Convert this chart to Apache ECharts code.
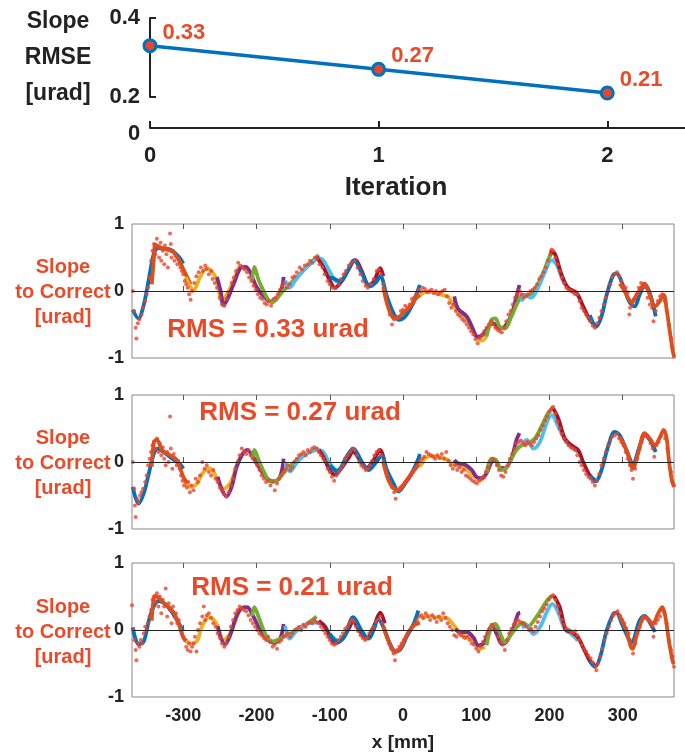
<!DOCTYPE html>
<html>
<head>
<meta charset="utf-8">
<script src="https://cdn.jsdelivr.net/npm/echarts@6/dist/echarts.min.js"></script>
<style>
  html, body { margin: 0; padding: 0; background: #fff; }
  #chart { width: 685px; height: 755px; }
</style>
</head>
<body>
<div id="chart"></div>
<script>
// ---- top chart: slope RMSE per iteration ----
const iterations = [0, 1, 2];
const rmseValues = [0.33, 0.27, 0.21];
const rmsLabels = ['RMS = 0.33 urad', 'RMS = 0.27 urad', 'RMS = 0.21 urad'];
const xTicks = [-300, -200, -100, 0, 100, 200, 300];

// ---- panel 1 (iteration 0) fitted segments ----
const p1Blue1 = [[-369,-0.28],[-361,-0.41],[-355,-0.25],[-350,0.0],[-345,0.3],[-340,0.56],[-334,0.64],[-325,0.63],[-318,0.62],[-306,0.51],[-300,0.41]];
const p1Orange1 = [[-343,0.1],[-340,0.5],[-338,0.69],[-329,0.64],[-315,0.59],[-306,0.46],[-297,0.26],[-290,0.1]];
const p1Yellow1 = [[-297,0.21],[-290,0.06],[-286,0.01],[-277,0.21],[-268,0.34],[-261,0.29],[-254,0.16],[-247,-0.15],[-238,0.0],[-231,0.15],[-222,0.36],[-213,0.33]];
const p1Purple1 = [[-254,0.21],[-249,0.0],[-245,-0.21],[-240,-0.13],[-231,0.11],[-222,0.34],[-215,0.36],[-209,0.29],[-200,0.06],[-190,-0.08],[-181,-0.16],[-172,-0.11],[-165,0.06],[-163,0.21]];
const p1Green1 = [[-206,0.16],[-203,0.36],[-197,0.16],[-190,-0.01],[-184,-0.13],[-179,-0.17],[-172,-0.11],[-163,0.01],[-154,0.11],[-140,0.26],[-127,0.41],[-115,0.54]];
const p1Cyan1 = [[-161,0.16],[-155,0.05],[-147,0.16],[-136,0.31],[-122,0.44],[-115,0.49],[-109,0.46],[-100,0.29],[-90,0.14],[-84,0.16]];
const p1Red1 = [[-118,0.51],[-109,0.36],[-100,0.16],[-93,0.05],[-84,0.14],[-75,0.31],[-65,0.46],[-56,0.29],[-47,0.09],[-40,0.14],[-31,0.34],[-27,0.22]];
const p1Blue2 = [[-100,0.2],[-95,0.19],[-86,0.14],[-75,0.31],[-67,0.46],[-56,0.26],[-45,0.07],[-36,0.14],[-31,0.22],[-22,-0.08],[-13,-0.33],[-6,-0.43],[3,-0.38],[14,-0.18],[19,-0.03],[23,0.09]];
const p1Orange2 = [[-27,0.06],[-22,-0.18],[-15,-0.38],[-9,-0.41],[0,-0.33],[10,-0.23],[16,-0.13],[23,-0.06],[30,-0.01]];
const p1Yellow2 = [[23,-0.06],[32,-0.01],[41,-0.02],[53,-0.06],[62,-0.09],[66,-0.16],[75,-0.3],[87,-0.42],[96,-0.6],[103,-0.72],[108,-0.74],[114,-0.68]];
const p1Purple2 = [[70,-0.08],[75,-0.26],[87,-0.38],[96,-0.58],[101,-0.68],[107,-0.67],[114,-0.58],[123,-0.48],[132,-0.56],[139,-0.53],[148,-0.36],[155,-0.08],[159,0.09]];
const p1Green2 = [[114,-0.68],[121,-0.43],[126,-0.41],[132,-0.53],[139,-0.56],[148,-0.38],[157,-0.16],[164,-0.06],[173,-0.06],[182,0.06],[191,0.26],[200,0.51],[205,0.59]];
const p1Cyan2 = [[162,-0.16],[166,-0.06],[175,-0.1],[184,0.04],[194,0.29],[203,0.46],[210,0.39],[219,0.14],[230,0.01],[239,-0.06]];
const p1Red2 = [[200,0.59],[207,0.56],[216,0.26],[225,0.05],[237,-0.03],[246,-0.23],[255,-0.43],[262,-0.51]];
const p1Blue3 = [[255,-0.36],[264,-0.53],[271,-0.38],[278,-0.06],[287,0.24],[292,0.26],[300,0.09],[309,-0.16],[316,-0.23],[323,-0.06],[330,0.09],[337,-0.03],[345,-0.38]];
const p1Orange3 = [[296,0.11],[303,-0.01],[312,-0.16],[316,-0.11],[323,0.01],[330,0.11],[337,-0.06],[344,-0.23],[350,-0.16],[356,-0.06],[360,-0.28],[364,-0.58],[368,-0.88],[370,-0.98]];

// ---- panel 2 (iteration 1) fitted segments ----
const p2Blue1 = [[-369,-0.37],[-361,-0.62],[-354,-0.47],[-347,-0.17],[-340,0.13],[-335,0.2],[-327,0.15],[-315,0.05],[-304,-0.04],[-300,-0.1]];
const p2Orange1 = [[-343,-0.07],[-340,0.3],[-336,0.33],[-329,0.18],[-318,0.1],[-309,0.03],[-300,-0.22],[-294,-0.32]];
const p2Yellow1 = [[-297,-0.32],[-290,-0.37],[-281,-0.32],[-275,-0.19],[-265,-0.09],[-259,-0.14],[-253,-0.27],[-245,-0.4],[-235,-0.3],[-227,-0.05],[-218,0.15]];
const p2Purple1 = [[-253,-0.22],[-247,-0.42],[-241,-0.51],[-234,-0.37],[-227,-0.07],[-220,0.1],[-213,0.18],[-206,0.1],[-197,-0.07],[-186,-0.24],[-177,-0.29],[-168,-0.22],[-163,0.05]];
const p2Green1 = [[-206,0.05],[-203,0.18],[-197,0.03],[-188,-0.19],[-181,-0.29],[-175,-0.29],[-165,-0.19],[-156,-0.08],[-145,0.03],[-131,0.13],[-115,0.2]];
const p2Cyan1 = [[-161,0.0],[-154,-0.14],[-147,-0.04],[-140,0.05],[-129,0.14],[-118,0.18],[-109,0.15],[-100,-0.02],[-90,-0.12],[-81,-0.04]];
const p2Red1 = [[-115,0.18],[-109,0.08],[-100,-0.12],[-93,-0.19],[-84,-0.09],[-75,0.05],[-68,0.15],[-59,0.03],[-50,-0.09],[-40,0.03],[-31,0.18],[-26,0.03]];
const p2Blue2 = [[-100,-0.05],[-90,-0.14],[-77,0.08],[-68,0.2],[-56,0.0],[-47,-0.12],[-38,-0.02],[-29,0.09],[-22,-0.12],[-13,-0.32],[-6,-0.44],[3,-0.32],[14,-0.12],[21,0.05],[23,0.12]];
const p2Orange2 = [[-27,0.0],[-20,-0.27],[-13,-0.39],[-6,-0.42],[3,-0.3],[12,-0.17],[19,-0.07],[28,0.0]];
const p2Yellow2 = [[23,-0.07],[30,0.05],[39,0.09],[50,0.07],[60,0.04],[66,-0.02],[75,-0.05],[85,-0.1],[95,-0.2],[105,-0.27],[112,-0.22]];
const p2Purple2 = [[70,0.03],[75,-0.02],[85,-0.04],[94,-0.12],[100,-0.22],[107,-0.24],[114,-0.17],[121,0.0],[126,0.03],[132,-0.08],[139,-0.09],[148,0.05],[155,0.33],[159,0.43]];
const p2Green2 = [[114,-0.17],[121,0.05],[127,0.03],[135,-0.12],[141,-0.09],[148,0.05],[155,0.18],[162,0.25],[171,0.28],[180,0.35],[189,0.53],[198,0.73],[205,0.82]];
const p2Cyan2 = [[162,0.25],[169,0.33],[178,0.2],[187,0.3],[196,0.58],[203,0.7],[212,0.53],[221,0.33],[230,0.23],[239,0.15]];
const p2Red2 = [[205,0.8],[212,0.65],[221,0.35],[230,0.25],[239,0.18],[246,0.0],[255,-0.2],[262,-0.27]];
const p2Blue3 = [[255,-0.2],[263,-0.29],[271,-0.12],[280,0.23],[289,0.45],[296,0.4],[305,0.18],[314,-0.02],[323,0.23],[330,0.4],[337,0.33],[345,0.15]];
const p2Orange3 = [[296,0.38],[305,0.18],[314,-0.09],[321,0.13],[330,0.43],[337,0.35],[344,0.25],[350,0.35],[356,0.48],[360,0.35],[363,0.03],[367,-0.27],[370,-0.37]];

// ---- panel 3 (iteration 2) fitted segments ----
const p3Blue1 = [[-369,0.04],[-361,-0.21],[-354,-0.17],[-347,0.14],[-340,0.36],[-334,0.43],[-325,0.39],[-315,0.26],[-304,0.06],[-300,-0.02]];
const p3Orange1 = [[-343,0.14],[-339,0.51],[-334,0.48],[-325,0.39],[-315,0.29],[-306,0.09],[-300,-0.11],[-294,-0.18]];
const p3Yellow1 = [[-297,-0.16],[-290,-0.2],[-281,-0.16],[-275,0.04],[-265,0.19],[-259,0.16],[-253,0.06],[-245,-0.15],[-236,-0.05],[-222,0.31],[-215,0.35]];
const p3Purple1 = [[-253,0.06],[-249,-0.11],[-243,-0.21],[-236,-0.08],[-229,0.16],[-222,0.31],[-213,0.34],[-206,0.24],[-197,0.04],[-186,-0.13],[-177,-0.19],[-168,-0.13],[-163,0.09]];
const p3Green1 = [[-206,0.21],[-203,0.34],[-197,0.19],[-190,-0.01],[-184,-0.13],[-177,-0.17],[-168,-0.13],[-159,-0.08],[-145,-0.01],[-131,0.09],[-118,0.2]];
const p3Cyan1 = [[-161,0.06],[-155,-0.13],[-147,-0.03],[-140,0.04],[-129,0.1],[-120,0.11],[-109,0.09],[-100,-0.06],[-90,-0.16]];
const p3Red1 = [[-115,0.14],[-106,0.04],[-100,-0.1],[-93,-0.2],[-85,-0.16],[-75,0.0],[-68,0.12],[-60,0.0],[-50,-0.13],[-40,0.05],[-31,0.26],[-25,0.1]];
const p3Blue2 = [[-100,-0.06],[-90,-0.17],[-80,-0.1],[-68,0.19],[-57,0.0],[-47,-0.13],[-40,0.0],[-34,0.16],[-27,0.05],[-18,-0.2],[-10,-0.32],[-3,-0.28],[5,-0.1],[14,0.08],[21,0.29]];
const p3Orange2 = [[-27,0.06],[-20,-0.16],[-11,-0.33],[-4,-0.28],[5,-0.08],[14,0.06],[23,0.11]];
const p3Yellow2 = [[25,0.16],[32,0.21],[46,0.19],[59,0.18],[68,0.09],[78,-0.05],[87,-0.1],[96,-0.16],[105,-0.28],[112,-0.25]];
const p3Purple2 = [[71,0.01],[78,-0.03],[87,-0.03],[96,-0.11],[103,-0.23],[110,-0.2],[114,-0.11],[121,0.06],[128,-0.06],[135,-0.21],[141,-0.18],[150,0.01],[157,0.24],[160,0.26]];
const p3Green2 = [[114,-0.23],[121,0.06],[126,0.09],[133,-0.06],[139,-0.18],[148,-0.06],[157,0.06],[164,0.11],[171,0.06],[180,0.16],[189,0.31],[198,0.46],[206,0.52]];
const p3Cyan2 = [[162,0.04],[169,0.06],[178,-0.06],[187,0.04],[196,0.26],[204,0.39],[212,0.26],[221,0.01],[230,-0.06],[239,-0.16]];
const p3Red2 = [[206,0.51],[214,0.34],[222,0.01],[230,-0.03],[239,-0.11],[248,-0.31],[255,-0.46],[262,-0.53]];
const p3Blue3 = [[255,-0.46],[262,-0.55],[269,-0.41],[278,-0.01],[287,0.24],[291,0.26],[300,0.06],[312,-0.18],[323,0.14],[330,0.21],[337,0.11],[344,-0.03]];
const p3Orange3 = [[296,0.21],[305,-0.01],[313,-0.28],[321,-0.01],[330,0.19],[335,0.16],[341,0.09],[348,0.24],[354,0.34],[358,0.21],[363,-0.16],[368,-0.46],[370,-0.51]];

// ---- measured slope points ----
const p1Dots = [[-369,0.0],[-367,-0.3],[-365,-0.55],[-364,-0.71],[-362,-0.48],[-360,-0.42],[-357,-0.35],[-355,-0.25],[-352,-0.15],[-350,-0.05],[-348,0.05],[-346,0.2],[-344,0.45],[-342,0.6],[-340,0.7],[-338,0.55],[-336,0.78],[-334,0.65],[-333,0.5],[-331,0.72],[-330,0.45],[-328,0.6],[-326,0.4],[-325,0.68],[-323,0.55],[-321,0.35],[-320,0.62],[-318,0.86],[-317,0.7],[-316,0.5],[-314,0.6],[-312,0.45],[-310,0.52],[-308,0.4],[-306,0.48],[-304,0.35],[-302,0.3],[-300,0.25],[-298,0.15],[-296,0.1],[-294,0.05],[-292,-0.05],[-290,-0.13],[-288,0.0],[-285,0.12],[-282,0.22],[-279,0.28],[-276,0.35],[-273,0.3],[-270,0.38],[-268,0.33],[-265,0.25],[-262,0.3],[-260,0.18],[-257,0.12],[-254,0.05],[-250,-0.1],[-247,-0.2],[-244,-0.22],[-241,-0.12],[-238,-0.02],[-234,0.12],[-231,0.2],[-228,0.3],[-225,0.42],[-222,0.38],[-219,0.35],[-216,0.32],[-213,0.28],[-210,0.2],[-207,0.15],[-204,0.08],[-201,0.02],[-198,-0.05],[-195,-0.1],[-192,-0.12],[-189,-0.18],[-186,-0.2],[-183,-0.15],[-180,-0.22],[-177,-0.12],[-174,-0.1],[-171,-0.05],[-168,0.02],[-165,0.08],[-162,0.12],[-158,0.05],[-155,0.1],[-151,0.2],[-148,0.22],[-145,0.28],[-141,0.35],[-138,0.32],[-134,0.38],[-130,0.4],[-127,0.45],[-124,0.42],[-120,0.5],[-117,0.48],[-114,0.4],[-110,0.35],[-107,0.25],[-103,0.15],[-100,0.1],[-96,0.05],[-92,0.04],[-88,0.1],[-85,0.18],[-81,0.25],[-78,0.3],[-74,0.38],[-70,0.42],[-66,0.45],[-62,0.35],[-58,0.25],[-55,0.15],[-51,0.08],[-48,0.05],[-44,0.1],[-40,0.18],[-36,0.3],[-33,0.32],[-30,0.25],[-27,0.1],[-24,-0.05],[-21,-0.2],[-18,-0.35],[-15,-0.5],[-12,-0.42],[-9,-0.38],[-6,-0.4],[-3,-0.3],[0,-0.28],[3,-0.22],[6,-0.25],[9,-0.2],[12,-0.12],[15,-0.1],[18,-0.05],[21,0.02],[24,0.0],[27,0.05],[30,0.03],[33,-0.02],[36,0.0],[39,0.02],[42,-0.03],[45,0.0],[48,-0.05],[51,-0.02],[54,0.0],[57,0.02],[60,-0.08],[63,-0.18],[66,-0.25],[69,-0.2],[72,-0.3],[75,-0.35],[78,-0.38],[81,-0.42],[84,-0.45],[87,-0.5],[90,-0.55],[93,-0.6],[96,-0.65],[99,-0.72],[102,-0.78],[105,-0.7],[108,-0.65],[111,-0.6],[114,-0.55],[117,-0.5],[120,-0.45],[123,-0.5],[126,-0.55],[129,-0.58],[132,-0.6],[135,-0.62],[138,-0.55],[141,-0.45],[144,-0.35],[147,-0.3],[150,-0.2],[153,-0.1],[156,-0.05],[159,0.0],[162,-0.05],[165,-0.1],[168,-0.08],[171,-0.05],[174,0.0],[177,0.02],[180,0.05],[183,0.1],[186,0.18],[189,0.22],[192,0.28],[195,0.35],[198,0.45],[201,0.55],[203,0.62],[205,0.6],[208,0.5],[211,0.4],[214,0.3],[217,0.2],[220,0.12],[223,0.05],[226,0.02],[229,0.0],[232,-0.02],[235,-0.05],[238,-0.05],[241,-0.15],[244,-0.25],[247,-0.3],[250,-0.35],[253,-0.4],[256,-0.45],[259,-0.52],[262,-0.55],[265,-0.48],[268,-0.4],[271,-0.3],[274,-0.2],[277,-0.1],[280,0.0],[283,0.1],[286,0.2],[289,0.25],[292,0.28],[295,0.22],[298,0.15],[301,0.08],[304,0.05],[307,-0.02],[309,-0.35],[310,-0.25],[313,-0.2],[316,-0.15],[319,-0.05],[322,0.05],[325,0.12],[328,0.1],[331,0.05],[334,-0.1],[337,-0.2],[340,-0.25],[342,-0.45],[345,-0.3],[348,-0.15],[351,-0.08],[354,-0.05],[357,-0.15],[360,-0.3],[363,-0.5],[366,-0.7],[368,-0.85],[370,-0.98]];
const p2Dots = [[-369,0.0],[-367,-0.4],[-366,-0.65],[-365,-0.82],[-363,-0.55],[-361,-0.6],[-359,-0.5],[-357,-0.45],[-355,-0.4],[-352,-0.3],[-350,-0.2],[-348,-0.05],[-346,0.05],[-344,0.15],[-342,0.25],[-340,0.3],[-338,0.2],[-336,0.35],[-334,0.15],[-332,0.28],[-330,0.1],[-328,0.22],[-326,0.05],[-324,-0.05],[-322,0.15],[-320,0.0],[-318,0.68],[-317,0.2],[-315,-0.1],[-313,0.12],[-311,0.05],[-309,-0.05],[-307,0.02],[-305,-0.1],[-303,-0.2],[-301,-0.28],[-299,-0.35],[-297,-0.3],[-295,-0.38],[-293,-0.3],[-291,-0.45],[-289,-0.35],[-286,-0.42],[-283,-0.25],[-280,-0.3],[-277,-0.2],[-274,0.0],[-271,-0.1],[-268,-0.05],[-265,-0.15],[-262,-0.2],[-259,-0.12],[-256,-0.25],[-253,-0.3],[-250,-0.38],[-247,-0.42],[-244,-0.48],[-241,-0.52],[-238,-0.45],[-235,-0.35],[-232,-0.25],[-229,-0.1],[-226,0.0],[-223,0.1],[-220,0.2],[-217,0.15],[-214,0.12],[-211,0.18],[-208,0.1],[-205,0.05],[-202,0.0],[-199,-0.05],[-196,-0.12],[-193,-0.2],[-190,-0.25],[-187,-0.3],[-184,-0.28],[-181,-0.35],[-178,-0.3],[-175,-0.42],[-172,-0.32],[-169,-0.25],[-166,-0.2],[-163,-0.15],[-160,-0.1],[-157,-0.05],[-154,-0.12],[-151,-0.08],[-148,0.0],[-145,0.05],[-142,0.1],[-139,0.12],[-136,0.15],[-133,0.1],[-130,0.18],[-127,0.15],[-124,0.2],[-121,0.22],[-118,0.2],[-115,0.15],[-112,0.1],[-109,0.05],[-106,0.0],[-103,-0.1],[-100,-0.15],[-97,-0.22],[-94,-0.28],[-91,-0.2],[-88,-0.15],[-85,-0.1],[-82,-0.05],[-79,0.05],[-76,0.1],[-72,0.15],[-69,0.2],[-66,0.18],[-63,0.1],[-60,0.0],[-57,-0.05],[-54,-0.08],[-51,-0.12],[-48,-0.1],[-45,-0.05],[-42,0.02],[-39,0.1],[-36,0.15],[-33,0.18],[-30,0.1],[-27,0.0],[-24,-0.1],[-21,-0.2],[-18,-0.3],[-15,-0.38],[-12,-0.45],[-10,-0.55],[-7,-0.42],[-4,-0.38],[-1,-0.35],[2,-0.32],[5,-0.28],[8,-0.25],[11,-0.2],[14,-0.15],[17,-0.1],[20,-0.05],[23,0.02],[26,0.05],[29,0.08],[32,0.15],[35,0.12],[38,0.1],[41,0.08],[44,0.05],[47,0.1],[50,0.06],[53,0.12],[56,0.05],[59,0.15],[62,0.02],[65,-0.05],[68,-0.1],[71,-0.05],[74,-0.12],[77,-0.08],[80,-0.15],[83,-0.12],[86,-0.2],[89,-0.22],[92,-0.25],[95,-0.28],[98,-0.3],[101,-0.32],[104,-0.28],[107,-0.25],[110,-0.22],[113,-0.15],[116,-0.08],[119,0.0],[122,0.05],[125,0.02],[128,-0.05],[131,-0.12],[134,-0.2],[137,-0.22],[140,-0.15],[143,-0.05],[146,0.05],[149,0.12],[152,0.2],[155,0.28],[158,0.3],[161,0.32],[164,0.28],[167,0.25],[170,0.3],[173,0.28],[176,0.25],[179,0.3],[182,0.35],[185,0.4],[188,0.48],[191,0.55],[194,0.62],[197,0.68],[200,0.75],[203,0.8],[205,0.82],[208,0.72],[211,0.6],[214,0.5],[217,0.42],[220,0.35],[223,0.3],[226,0.25],[229,0.22],[232,0.2],[235,0.18],[238,0.1],[241,0.0],[244,-0.05],[247,-0.12],[250,-0.18],[253,-0.22],[256,-0.25],[259,-0.3],[262,-0.35],[265,-0.28],[268,-0.18],[271,-0.05],[274,0.05],[277,0.15],[280,0.25],[283,0.32],[286,0.38],[289,0.4],[292,0.42],[295,0.35],[298,0.3],[301,0.25],[304,0.15],[307,0.05],[310,-0.05],[312,-0.12],[314,-0.25],[317,-0.1],[320,0.05],[323,0.2],[326,0.3],[329,0.38],[332,0.4],[335,0.35],[338,0.28],[341,0.2],[343,0.08],[346,0.25],[349,0.3],[352,0.38],[355,0.45],[358,0.35],[361,0.2],[364,0.0],[366,-0.15],[368,-0.3],[370,-0.35]];
const p3Dots = [[-370,0.37],[-368,0.0],[-367,-0.15],[-365,-0.3],[-364,-0.45],[-362,-0.2],[-360,-0.25],[-358,-0.15],[-356,-0.2],[-354,-0.05],[-352,0.05],[-350,0.0],[-348,0.1],[-346,0.2],[-344,0.3],[-342,0.45],[-340,0.5],[-338,0.42],[-336,0.55],[-334,0.35],[-332,0.5],[-330,0.25],[-328,0.45],[-326,0.35],[-324,0.62],[-322,0.2],[-320,0.4],[-318,0.3],[-316,0.1],[-314,0.35],[-312,0.2],[-310,0.25],[-308,0.1],[-306,0.15],[-304,0.0],[-302,-0.05],[-300,-0.1],[-298,-0.15],[-296,-0.25],[-294,-0.3],[-292,-0.2],[-290,-0.32],[-288,-0.25],[-286,-0.2],[-284,-0.1],[-282,-0.32],[-280,0.0],[-277,0.1],[-274,0.2],[-272,0.35],[-270,0.15],[-268,0.22],[-265,0.25],[-262,0.18],[-259,0.1],[-256,0.05],[-253,-0.05],[-250,-0.12],[-247,-0.2],[-244,-0.25],[-241,-0.2],[-238,-0.1],[-235,0.05],[-232,0.15],[-229,0.25],[-226,0.3],[-223,0.35],[-220,0.32],[-217,0.3],[-214,0.28],[-211,0.22],[-208,0.15],[-205,0.1],[-202,0.05],[-199,0.0],[-196,-0.05],[-193,-0.08],[-190,-0.12],[-187,-0.15],[-184,-0.1],[-181,-0.18],[-178,-0.25],[-175,-0.22],[-172,-0.28],[-169,-0.18],[-166,-0.15],[-163,-0.1],[-160,-0.08],[-157,-0.05],[-154,-0.1],[-151,-0.05],[-148,0.0],[-145,0.02],[-142,0.05],[-139,0.0],[-136,0.08],[-133,0.05],[-130,0.1],[-127,0.12],[-124,0.1],[-121,0.15],[-118,0.12],[-115,0.1],[-112,0.05],[-109,0.0],[-106,-0.05],[-103,-0.1],[-100,-0.15],[-97,-0.2],[-94,-0.22],[-91,-0.2],[-88,-0.15],[-85,-0.1],[-82,-0.05],[-79,0.02],[-76,0.05],[-73,0.1],[-70,0.15],[-67,0.12],[-64,0.05],[-61,-0.02],[-58,-0.08],[-55,-0.12],[-52,-0.15],[-49,-0.12],[-46,-0.05],[-43,0.0],[-40,0.05],[-37,0.12],[-34,0.15],[-31,0.2],[-28,0.1],[-25,0.0],[-22,-0.1],[-19,-0.2],[-16,-0.28],[-13,-0.35],[-11,-0.45],[-8,-0.3],[-5,-0.25],[-2,-0.2],[1,-0.15],[4,-0.1],[7,-0.05],[10,0.0],[13,0.05],[16,0.1],[19,0.15],[22,0.2],[25,0.22],[28,0.18],[31,0.25],[34,0.2],[37,0.15],[40,0.22],[43,0.18],[46,0.12],[49,0.2],[52,0.15],[55,0.25],[58,0.18],[61,0.1],[64,0.05],[67,0.0],[70,-0.08],[73,-0.1],[76,-0.05],[79,-0.08],[82,-0.1],[85,-0.12],[88,-0.1],[91,-0.15],[94,-0.2],[97,-0.22],[100,-0.28],[103,-0.32],[106,-0.25],[109,-0.18],[112,-0.1],[115,-0.05],[118,0.02],[121,0.08],[124,0.05],[127,0.0],[130,-0.1],[133,-0.18],[136,-0.22],[139,-0.3],[142,-0.15],[145,-0.05],[148,0.02],[151,0.08],[154,0.12],[157,0.15],[160,0.12],[163,0.1],[166,0.08],[169,0.05],[172,0.0],[175,0.02],[178,-0.02],[181,0.05],[184,0.12],[187,0.2],[190,0.28],[193,0.32],[196,0.38],[199,0.45],[202,0.5],[205,0.52],[208,0.45],[211,0.35],[214,0.25],[217,0.15],[220,0.08],[223,0.02],[226,0.0],[229,-0.02],[232,-0.05],[235,-0.02],[238,-0.08],[241,-0.15],[244,-0.22],[247,-0.28],[250,-0.32],[253,-0.38],[256,-0.42],[259,-0.48],[262,-0.55],[264,-0.6],[266,-0.5],[269,-0.4],[272,-0.28],[275,-0.15],[278,-0.05],[281,0.05],[284,0.15],[287,0.22],[290,0.25],[293,0.28],[296,0.22],[299,0.15],[302,0.1],[305,0.02],[308,-0.05],[310,-0.15],[312,-0.25],[314,-0.35],[317,-0.2],[320,-0.05],[323,0.05],[326,0.15],[329,0.2],[332,0.18],[335,0.15],[338,0.1],[340,0.05],[342,-0.1],[345,0.1],[348,0.15],[351,0.2],[354,0.3],[357,0.25],[360,0.1],[363,-0.15],[366,-0.3],[368,-0.4],[370,-0.55]];

const p1Segments = [p1Blue1, p1Orange1, p1Yellow1, p1Purple1, p1Green1, p1Cyan1, p1Red1, p1Blue2, p1Orange2, p1Yellow2, p1Purple2, p1Green2, p1Cyan2, p1Red2, p1Blue3, p1Orange3];
const p2Segments = [p2Blue1, p2Orange1, p2Yellow1, p2Purple1, p2Green1, p2Cyan1, p2Red1, p2Blue2, p2Orange2, p2Yellow2, p2Purple2, p2Green2, p2Cyan2, p2Red2, p2Blue3, p2Orange3];
const p3Segments = [p3Blue1, p3Orange1, p3Yellow1, p3Purple1, p3Green1, p3Cyan1, p3Red1, p3Blue2, p3Orange2, p3Yellow2, p3Purple2, p3Green2, p3Cyan2, p3Red2, p3Blue3, p3Orange3];

// matlab default color order
const lineColors = ['#0072BD', '#D95319', '#EDB120', '#7E2F8E', '#77AC30', '#4DBEEE', '#A2142F'];
const red = '#E94B2A';
const dark = '#222';
const font = 'Liberation Sans';

const chart = echarts.init(document.getElementById('chart'), null, { renderer: 'canvas' });

const panelTops = [224, 395, 563];
const panels = [
  { segs: p1Segments, dots: p1Dots },
  { segs: p2Segments, dots: p2Dots },
  { segs: p3Segments, dots: p3Dots }
];

const grids = [
  { left: 150, right: 0, top: 18, height: 79 },
  { left: 150, right: 0, top: 100, height: 28 }
];
const xAxes = [
  { gridIndex: 0, type: 'value', min: 0, max: 2.34, show: false },
  {
    gridIndex: 1, type: 'value', min: 0, max: 2.34, interval: 1,
    axisLine: { lineStyle: { color: dark, width: 2 } },
    axisTick: { inside: true, length: 7, lineStyle: { color: dark, width: 2 } },
    axisLabel: { margin: 17, fontSize: 22, fontWeight: 'bold', color: dark, fontFamily: font, showMaxLabel: false },
    splitLine: { show: false }
  }
];
const yAxes = [
  {
    gridIndex: 0, type: 'value', min: 0.2, max: 0.4, interval: 0.2,
    axisLine: { show: true, lineStyle: { color: dark, width: 2 } },
    axisTick: { show: true, inside: true, length: 6, lineStyle: { color: dark, width: 2 } },
    axisLabel: { margin: 10, fontSize: 22, fontWeight: 'bold', color: dark, fontFamily: font, padding: [8, 0, 0, 0] },
    splitLine: { show: false }
  },
  { gridIndex: 1, type: 'value', min: 0, max: 1, show: false }
];
const series = [{
  type: 'line',
  xAxisIndex: 0, yAxisIndex: 0,
  data: iterations.map((it, i) => [it, rmseValues[i]]),
  lineStyle: { color: '#0072BD', width: 3.5 },
  symbol: 'circle', symbolSize: 12,
  itemStyle: { color: '#E8452C', borderColor: '#0072BD', borderWidth: 3 },
  label: {
    show: true, position: 'right', offset: [0, -13],
    formatter: p => p.value[1].toFixed(2),
    color: red, fontSize: 22, fontWeight: 'bold', fontFamily: font
  },
  z: 5
}];

panels.forEach((panel, k) => {
  const g = grids.length;
  const last = k === panels.length - 1;
  grids.push({ left: 132, right: 11, top: panelTops[k], height: 134, show: true, borderColor: '#888', borderWidth: 1 });
  const tickStyle = { inside: true, length: 5, customValues: xTicks, lineStyle: { color: '#555' } };
  xAxes.push({
    gridIndex: g, type: 'value', min: -370, max: 370,
    axisLine: { show: false }, axisTick: tickStyle,
    axisLabel: { show: last, customValues: xTicks, margin: 10, fontSize: 18, fontWeight: 'bold', color: dark, fontFamily: font },
    splitLine: { show: false },
    name: last ? 'x [mm]' : '', nameLocation: 'middle', nameGap: 36,
    nameTextStyle: { fontSize: 19, fontWeight: 'bold', color: dark, fontFamily: font }
  });
  xAxes.push({
    gridIndex: g, type: 'value', position: 'top', min: -370, max: 370,
    axisLine: { show: false }, axisTick: tickStyle, axisLabel: { show: false }, splitLine: { show: false }
  });
  yAxes.push({
    gridIndex: g, type: 'value', min: -1, max: 1, interval: 1,
    axisLine: { show: false }, axisTick: { show: false },
    axisLabel: { margin: 8, fontSize: 18, fontWeight: 'bold', color: dark, fontFamily: font },
    splitLine: { show: false }
  });
  const xi = 2 + 2 * k, yi = 2 + k;
  panel.segs.forEach((seg, i) => {
    series.push({
      type: 'line', xAxisIndex: xi, yAxisIndex: yi, data: seg,
      smooth: 0.35, showSymbol: false, silent: true,
      lineStyle: { color: lineColors[i % lineColors.length], width: 3.8 },
      z: 3
    });
  });
  series.push({
    type: 'scatter', xAxisIndex: xi, yAxisIndex: yi, data: panel.dots,
    symbolSize: 4, itemStyle: { color: '#E8452C' }, silent: true, z: 4,
    markLine: {
      silent: true, symbol: 'none', label: { show: false },
      lineStyle: { color: dark, width: 1, type: 'solid' },
      data: [{ yAxis: 0 }]
    }
  });
});

const textStyle = (size, color) => ({ fontSize: size, fontWeight: 'bold', fill: color, fontFamily: font });

const graphic = [
  { type: 'text', x: 58, y: 58, style: Object.assign({ text: 'Slope\nRMSE\n[urad]', align: 'center', verticalAlign: 'middle', lineHeight: 36 }, textStyle(23, dark)) },
  { type: 'text', x: 134, y: 134, style: Object.assign({ text: '0', align: 'center', verticalAlign: 'middle' }, textStyle(22, dark)) },
  { type: 'text', x: 396, y: 188, style: Object.assign({ text: 'Iteration', align: 'center', verticalAlign: 'middle' }, textStyle(26, dark)) }
];
const leftLabelY = [292, 463, 632];
const rmsPos = [[268, 330], [300, 413], [292, 588]];
for (let k = 0; k < 3; k++) {
  graphic.push({ type: 'text', x: 63, y: leftLabelY[k], style: Object.assign({ text: 'Slope\nto Correct\n[urad]', align: 'center', verticalAlign: 'middle', lineHeight: 25 }, textStyle(20, red)) });
  graphic.push({ type: 'text', x: rmsPos[k][0], y: rmsPos[k][1], z: 10, style: Object.assign({ text: rmsLabels[k], align: 'center', verticalAlign: 'middle' }, textStyle(26, red)) });
}

chart.setOption({
  animation: false,
  backgroundColor: '#fff',
  grid: grids,
  xAxis: xAxes,
  yAxis: yAxes,
  series: series,
  graphic: graphic
});
</script>
</body>
</html>
